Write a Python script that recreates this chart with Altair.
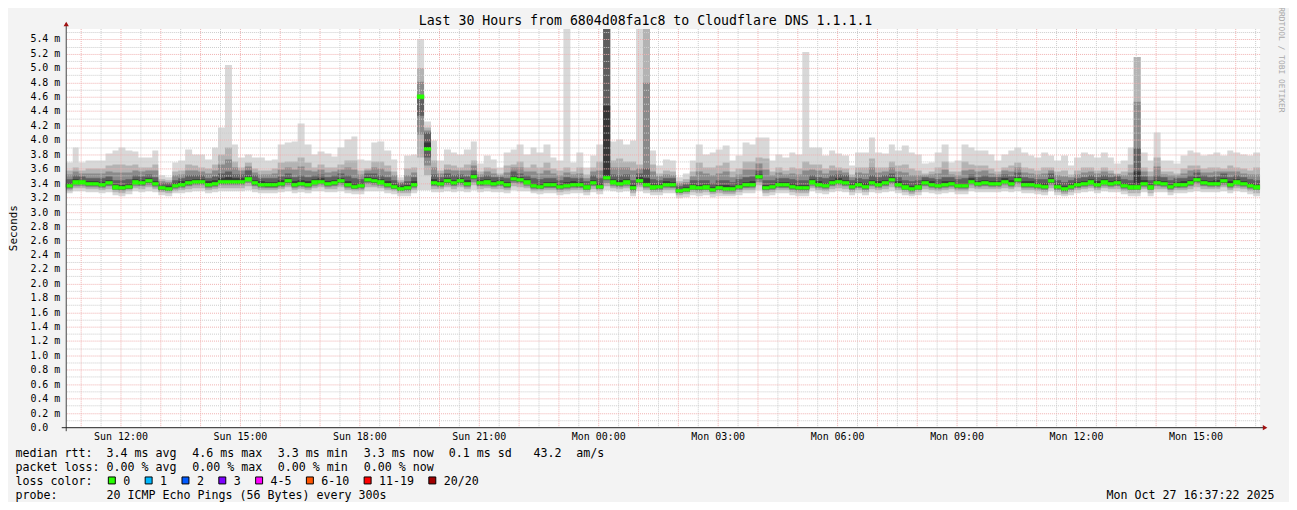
import altair as alt
import pandas as pd

# ---------------- data ----------------
START_H = 10 + 37 / 60 + 22 / 3600     # Sun 10:37:22, hours since Sun 00:00
STEP_H = 1 / 6                          # 10 minute columns
SPAN_H = 30

median = [
    3.36, 3.41, 3.41, 3.39, 3.39, 3.38, 3.40, 3.34, 3.33, 3.35,
    3.41, 3.40, 3.43, 3.39, 3.33, 3.32, 3.36, 3.38, 3.40, 3.42,
    3.42, 3.38, 3.39, 3.42, 3.42, 3.42, 3.42, 3.45, 3.40, 3.38,
    3.37, 3.37, 3.39, 3.43, 3.38, 3.39, 3.38, 3.41, 3.42, 3.39,
    3.40, 3.43, 3.38, 3.35, 3.36, 3.44, 3.43, 3.41, 3.38, 3.35,
    3.32, 3.33, 3.38, 4.60, 3.87, 3.40, 3.39, 3.43, 3.40, 3.43,
    3.39, 3.48, 3.40, 3.41, 3.39, 3.40, 3.37, 3.46, 3.44, 3.41,
    3.36, 3.35, 3.37, 3.37, 3.35, 3.36, 3.38, 3.37, 3.34, 3.40,
    3.35, 3.47, 3.41, 3.39, 3.41, 3.33, 3.43, 3.38, 3.34, 3.35,
    3.38, 3.37, 3.29, 3.31, 3.34, 3.33, 3.34, 3.31, 3.33, 3.32,
    3.32, 3.35, 3.37, 3.38, 3.48, 3.33, 3.35, 3.37, 3.37, 3.35,
    3.33, 3.33, 3.41, 3.38, 3.36, 3.40, 3.42, 3.40, 3.35, 3.37,
    3.35, 3.40, 3.38, 3.40, 3.44, 3.38, 3.34, 3.32, 3.34, 3.40,
    3.38, 3.36, 3.38, 3.39, 3.36, 3.36, 3.42, 3.39, 3.40, 3.39,
    3.39, 3.42, 3.39, 3.44, 3.38, 3.38, 3.36, 3.35, 3.43, 3.35,
    3.32, 3.35, 3.37, 3.39, 3.41, 3.38, 3.41, 3.39, 3.40, 3.36,
    3.34, 3.34, 3.39, 3.34, 3.40, 3.39, 3.35, 3.37, 3.38, 3.40,
    3.44, 3.40, 3.39, 3.39, 3.43, 3.38, 3.41, 3.39, 3.36, 3.34,
]
smoke_top = [
    3.69, 3.90, 3.69, 3.72, 3.71, 3.71, 3.81, 3.85, 3.90, 3.85,
    3.84, 3.76, 3.75, 3.85, 3.50, 3.48, 3.69, 3.71, 3.86, 3.80,
    3.80, 3.73, 3.89, 4.17, 5.05, 3.94, 3.76, 3.80, 3.76, 3.76,
    3.71, 3.73, 3.94, 3.97, 3.98, 4.22, 3.94, 3.80, 3.84, 3.81,
    3.77, 3.89, 4.01, 4.04, 3.73, 3.71, 3.97, 3.98, 3.85, 3.73,
    3.48, 3.78, 3.80, 5.40, 4.25, 3.99, 3.71, 3.87, 3.83, 3.80,
    3.86, 3.98, 3.67, 3.78, 3.73, 3.62, 3.83, 3.87, 3.94, 3.80,
    3.89, 3.83, 3.94, 3.76, 3.71, 6.00, 3.69, 3.83, 3.62, 3.78,
    3.94, 6.00, 3.98, 4.01, 3.94, 3.99, 6.00, 6.00, 3.85, 3.64,
    3.73, 3.71, 3.48, 3.53, 3.71, 3.94, 3.80, 3.83, 3.86, 3.92,
    3.71, 3.78, 3.97, 3.94, 4.03, 4.03, 3.71, 3.80, 3.76, 3.83,
    3.80, 5.22, 3.89, 3.89, 3.78, 3.85, 3.81, 3.78, 3.64, 3.83,
    3.83, 4.03, 3.83, 3.81, 3.94, 3.85, 3.92, 3.83, 3.80, 3.67,
    3.69, 3.83, 3.94, 3.69, 3.71, 3.94, 3.89, 3.85, 3.85, 3.80,
    3.71, 3.80, 3.85, 3.89, 3.83, 3.78, 3.76, 3.83, 3.78, 3.72,
    3.78, 3.64, 3.76, 3.83, 3.80, 3.76, 3.83, 3.76, 3.67, 3.71,
    3.89, 5.15, 3.83, 3.71, 4.10, 3.71, 3.71, 3.67, 3.78, 3.85,
    3.83, 3.78, 3.80, 3.83, 3.78, 3.85, 3.83, 3.80, 3.78, 3.83,
]
smoke_mid = [
    3.58, 3.62, 3.58, 3.60, 3.60, 3.60, 3.64, 3.66, 3.66, 3.64,
    3.66, 3.62, 3.62, 3.66, 3.45, 3.44, 3.56, 3.58, 3.66, 3.64,
    3.62, 3.60, 3.66, 3.80, 3.90, 3.70, 3.62, 3.68, 3.60, 3.58,
    3.58, 3.60, 3.68, 3.70, 3.70, 3.76, 3.68, 3.62, 3.66, 3.62,
    3.62, 3.66, 3.72, 3.72, 3.58, 3.60, 3.70, 3.70, 3.64, 3.56,
    3.44, 3.60, 3.62, 5.00, 4.17, 3.72, 3.58, 3.66, 3.64, 3.62,
    3.66, 3.72, 3.56, 3.62, 3.60, 3.54, 3.64, 3.66, 3.70, 3.62,
    3.66, 3.62, 3.68, 3.60, 3.58, 3.62, 3.56, 3.62, 3.52, 3.62,
    3.70, 6.00, 3.72, 3.74, 3.70, 3.70, 3.66, 6.00, 3.66, 3.54,
    3.58, 3.56, 3.42, 3.45, 3.56, 3.68, 3.62, 3.62, 3.64, 3.68,
    3.56, 3.60, 3.70, 3.70, 3.76, 3.74, 3.56, 3.62, 3.58, 3.62,
    3.60, 3.70, 3.66, 3.66, 3.60, 3.64, 3.62, 3.60, 3.52, 3.62,
    3.62, 3.74, 3.62, 3.62, 3.70, 3.64, 3.66, 3.60, 3.58, 3.54,
    3.56, 3.62, 3.70, 3.56, 3.56, 3.70, 3.66, 3.64, 3.64, 3.60,
    3.56, 3.62, 3.64, 3.68, 3.62, 3.60, 3.58, 3.62, 3.62, 3.56,
    3.58, 3.52, 3.58, 3.62, 3.62, 3.58, 3.62, 3.58, 3.54, 3.56,
    3.66, 5.15, 3.62, 3.56, 3.76, 3.56, 3.56, 3.54, 3.60, 3.64,
    3.64, 3.60, 3.62, 3.62, 3.60, 3.64, 3.62, 3.60, 3.58, 3.62,
]
smoke_dark = [
    3.45, 3.50, 3.49, 3.47, 3.47, 3.46, 3.49, 3.44, 3.43, 3.45,
    3.50, 3.49, 3.52, 3.48, 3.40, 3.39, 3.44, 3.47, 3.50, 3.51,
    3.51, 3.47, 3.49, 3.53, 3.56, 3.52, 3.52, 3.57, 3.50, 3.47,
    3.46, 3.46, 3.49, 3.53, 3.48, 3.50, 3.48, 3.50, 3.52, 3.48,
    3.50, 3.53, 3.50, 3.46, 3.45, 3.54, 3.53, 3.51, 3.48, 3.44,
    3.39, 3.42, 3.48, 4.62, 4.10, 3.52, 3.48, 3.53, 3.50, 3.52,
    3.49, 3.58, 3.48, 3.50, 3.48, 3.48, 3.46, 3.56, 3.54, 3.50,
    3.46, 3.45, 3.47, 3.46, 3.44, 3.48, 3.47, 3.46, 3.42, 3.50,
    3.46, 6.00, 3.52, 3.50, 3.52, 3.44, 3.54, 3.60, 3.45, 3.44,
    3.47, 3.46, 3.36, 3.38, 3.43, 3.44, 3.44, 3.40, 3.43, 3.43,
    3.41, 3.45, 3.48, 3.49, 3.58, 3.44, 3.44, 3.47, 3.46, 3.45,
    3.43, 3.44, 3.51, 3.48, 3.46, 3.50, 3.52, 3.50, 3.44, 3.47,
    3.45, 3.50, 3.48, 3.50, 3.54, 3.48, 3.44, 3.42, 3.43, 3.48,
    3.47, 3.45, 3.48, 3.48, 3.45, 3.46, 3.52, 3.48, 3.50, 3.48,
    3.48, 3.52, 3.49, 3.55, 3.48, 3.47, 3.45, 3.45, 3.53, 3.44,
    3.41, 3.44, 3.46, 3.48, 3.51, 3.48, 3.50, 3.48, 3.49, 3.45,
    3.44, 3.90, 3.49, 3.43, 3.50, 3.48, 3.44, 3.46, 3.47, 3.50,
    3.55, 3.50, 3.48, 3.49, 3.53, 3.48, 3.51, 3.48, 3.45, 3.43,
]
smoke_low = [
    3.25, 3.28, 3.28, 3.27, 3.27, 3.26, 3.27, 3.23, 3.22, 3.24,
    3.28, 3.27, 3.29, 3.27, 3.23, 3.22, 3.25, 3.26, 3.27, 3.28,
    3.28, 3.26, 3.27, 3.28, 3.28, 3.28, 3.28, 3.30, 3.27, 3.26,
    3.25, 3.25, 3.27, 3.29, 3.26, 3.27, 3.26, 3.28, 3.29, 3.27,
    3.27, 3.29, 3.26, 3.24, 3.24, 3.29, 3.29, 3.28, 3.26, 3.24,
    3.22, 3.22, 3.26, 3.30, 3.30, 3.27, 3.27, 3.29, 3.27, 3.29,
    3.27, 3.30, 3.27, 3.28, 3.27, 3.27, 3.25, 3.30, 3.29, 3.28,
    3.25, 3.24, 3.25, 3.25, 3.23, 3.24, 3.26, 3.25, 3.23, 3.27,
    3.24, 3.30, 3.28, 3.27, 3.28, 3.22, 3.29, 3.26, 3.23, 3.23,
    3.26, 3.25, 3.19, 3.20, 3.23, 3.22, 3.23, 3.20, 3.22, 3.21,
    3.21, 3.23, 3.25, 3.26, 3.30, 3.22, 3.23, 3.25, 3.25, 3.23,
    3.22, 3.22, 3.28, 3.26, 3.24, 3.27, 3.28, 3.27, 3.23, 3.25,
    3.23, 3.27, 3.26, 3.27, 3.29, 3.26, 3.23, 3.21, 3.23, 3.27,
    3.26, 3.24, 3.26, 3.27, 3.24, 3.24, 3.28, 3.27, 3.27, 3.27,
    3.27, 3.28, 3.27, 3.29, 3.26, 3.26, 3.24, 3.23, 3.28, 3.23,
    3.21, 3.23, 3.25, 3.27, 3.28, 3.26, 3.28, 3.27, 3.27, 3.24,
    3.22, 3.22, 3.27, 3.22, 3.27, 3.27, 3.23, 3.25, 3.26, 3.27,
    3.29, 3.27, 3.27, 3.27, 3.29, 3.26, 3.28, 3.27, 3.24, 3.22,
]

y_ticks = [round(i * 0.2, 1) for i in range(28)]          # 0.0 .. 5.4
x_label_hours = [12, 15, 18, 21, 24, 27, 30, 33, 36, 39]    # Sun 12:00 .. Mon 15:00

title_text = "Last 30 Hours from 6804d08fa1c8 to Cloudflare DNS 1.1.1.1"
rtt_stats = ["3.4 ms avg", "4.6 ms max", "3.3 ms min", "3.3 ms now", "0.1 ms sd", "43.2", "am/s"]
loss_stats = ["0.00 % avg", "0.00 % max", "0.00 % min", "0.00 % now"]
loss_labels = ["0", "1", "2", "3", "4-5", "6-10", "11-19", "20/20"]
loss_colors = ["#26ff00", "#00b8ff", "#0059ff", "#7e00ff", "#ff00ff", "#ff5500", "#ff0000", "#a10000"]
probe_text = "20 ICMP Echo Pings (56 Bytes) every 300s"
stamp_text = "Mon Oct 27 16:37:22 2025"
watermark = "RRDTOOL / TOBI OETIKER"

# ---------------- tables ----------------
n = len(median)
t_start = [START_H + i * STEP_H for i in range(n)]
cols = pd.DataFrame({
    "t": t_start,
    "t1": [v + STEP_H for v in t_start],
    "lo": smoke_low, "med": median, "dk": smoke_dark, "hi": smoke_mid, "top": smoke_top,
})
# step-after areas need a closing row at the right edge
area_df = pd.concat([cols, cols.iloc[[-1]].assign(t=START_H + SPAN_H)], ignore_index=True)

FONT = "DejaVu Sans Mono"
W, H = 1200, 400
Y_MAX = 5.543
OX, OY = 66, 28   # page position of the plot origin (page has an 8px margin)

xs = alt.Scale(domain=[START_H, START_H + SPAN_H], nice=False, zero=False, round=True)
ys = alt.Scale(domain=[0, Y_MAX], nice=False, zero=False, clamp=True, round=True)

x_axis = alt.Axis(values=x_label_hours, grid=False, domain=False, ticks=False,
                  labelExpr="(datum.value < 24 ? 'Sun ' : 'Mon ') + (datum.value % 24 < 10 ? '0' : '') + (datum.value % 24) + ':00'",
                  labelFont=FONT, labelFontSize=10, labelColor="#000000", labelPadding=4,
                  labelFlush=False, labelOverlap=False, title=None)
y_axis = alt.Axis(values=y_ticks, grid=False, domain=False, ticks=False,
                  labelExpr="datum.value == 0 ? '0.0' : format(datum.value, '.1f') + ' m'",
                  labelFont=FONT, labelFontSize=10, labelColor="#000000", labelAlign="left",
                  labelBaseline="middle", labelPadding=36, labelOverlap=False, title=None)


def X(field):
    return alt.X(field, scale=xs, axis=x_axis)


def Y(field):
    return alt.Y(field, scale=ys, axis=y_axis)


def band(lo_expr, hi_expr, color):
    return alt.Chart(area_df).transform_calculate(a=lo_expr, b=hi_expr).mark_area(
        interpolate="step-after", color=color, opacity=1, clip=True
    ).encode(x=X("t:Q"), y=Y("a:Q"), y2="b:Q")


layers = [
    band("datum.lo", "datum.top", "#d8d8d8"),
    band("datum.lo + 0.35*(datum.med - datum.lo)", "datum.hi", "#b3b3b3"),
    band("datum.lo + 0.6*(datum.med - datum.lo)", "datum.dk + 0.5*(datum.hi - datum.dk)", "#8a8a8a"),
    band("datum.lo + 0.8*(datum.med - datum.lo)", "datum.dk", "#5e5e5e"),
    band("datum.med - 0.02", "datum.med + 0.4*(datum.dk - datum.med)", "#363636"),
]

# grid (drawn over the smoke, like rrdtool)
minor_y = pd.DataFrame({"v": [round(0.1 + 0.2 * i, 1) for i in range(28)]})
major_y = pd.DataFrame({"v": [v for v in y_ticks if v > 0]})
minor_x = pd.DataFrame({"v": [11.5 + i for i in range(30)]})
major_x = pd.DataFrame({"v": [11 + i for i in range(30)]})

g_minor = dict(color="#cccccc", strokeDash=[1, 1], strokeWidth=1)
g_major = dict(color="#f0b0b0", strokeDash=[1, 1], strokeWidth=1)
layers += [
    alt.Chart(minor_y).mark_rule(yOffset=0.5, **g_minor).encode(y=Y("v:Q")),
    alt.Chart(minor_x).mark_rule(xOffset=0.5, **g_minor).encode(x=X("v:Q")),
    alt.Chart(major_y).mark_rule(yOffset=0.5, **g_major).encode(y=Y("v:Q")),
    alt.Chart(major_x).mark_rule(xOffset=0.5, **g_major).encode(x=X("v:Q")),
]

# median line (loss 0 -> green)
layers.append(
    alt.Chart(cols).transform_calculate(a="datum.med - 0.022", b="datum.med + 0.022").mark_rect(
        color="#26ff00", stroke="#26ff00", strokeWidth=0.4, clip=True
    ).encode(x=X("t:Q"), x2="t1:Q", y=Y("a:Q"), y2="b:Q")
)

one = pd.DataFrame({"k": [0]})

# axis lines and arrows
layers += [
    alt.Chart(one).mark_rule(color="#404040", strokeWidth=1).encode(
        x=alt.value(0.5), y=alt.value(404), y2=alt.value(-6)),
    alt.Chart(one).mark_rule(color="#202020", strokeWidth=1).encode(
        y=alt.value(400.5), x=alt.value(-4), x2=alt.value(1205)),
    alt.Chart(one).mark_point(shape="triangle-up", filled=True, size=28, color="#a01010", opacity=1).encode(
        x=alt.value(0.5), y=alt.value(-5)),
    alt.Chart(one).mark_point(shape="triangle-right", filled=True, size=28, color="#a01010", opacity=1).encode(
        x=alt.value(1205), y=alt.value(400.5)),
]


def txt(s, x, y, size=11.7, align="left", color="#000000", angle=0, baseline="alphabetic"):
    return alt.Chart(one).mark_text(
        text=s, font=FONT, fontSize=size, align=align, baseline=baseline, color=color, angle=angle
    ).encode(x=alt.value(x), y=alt.value(y))


layers.append(txt(title_text, 648.5 - OX, 24 - OY, size=13.3, align="center"))
layers.append(txt("Seconds", 14.5 - OX, 228 - OY, size=11, align="center", angle=270, baseline="middle"))
layers.append(txt(watermark, 1287 - OX, 59 - OY, size=8, align="center", angle=90, baseline="middle", color="#a8a8a8"))

# legend rows
row_base = [458, 472, 486, 500]
item_x = [107, 193, 279, 365.4, 450.7, 536, 579]
layers.append(txt("median rtt:", 15.5 - OX, row_base[0] - OY))
for s, xx in zip(rtt_stats, item_x):
    layers.append(txt(s, xx - OX, row_base[0] - OY))
layers.append(txt("packet loss:", 15.5 - OX, row_base[1] - OY))
for s, xx in zip(loss_stats, item_x):
    layers.append(txt(s, xx - OX, row_base[1] - OY))
layers.append(txt("loss color:", 15.5 - OX, row_base[2] - OY))
bx = 108.3
for lab, colr in zip(loss_labels, loss_colors):
    layers.append(alt.Chart(one).mark_rect(fill=colr, stroke="#000000", strokeWidth=1).encode(
        x=alt.value(bx + 0.5 - OX), x2=alt.value(bx + 7.5 - OX),
        y=alt.value(478 - OY), y2=alt.value(485 - OY)))
    layers.append(txt(lab, bx + 15.5 - OX, row_base[2] - OY))
    bx += 30 + 7 * len(lab)
layers.append(txt("probe:", 15.5 - OX, row_base[3] - OY))
layers.append(txt(probe_text, 107 - OX, row_base[3] - OY))
layers.append(txt(stamp_text, 1280.5 - OX, row_base[3] - OY, align="right"))

chart = alt.layer(*layers).properties(
    width=W, height=H,
    padding={"left": OX - 8, "top": OY - 8, "right": 1287 - (OX - 8) - W, "bottom": 74},
    autosize=alt.AutoSizeParams(type="none"),
    background="#f3f3f3",
).configure_view(fill="#ffffff", stroke=None)

chart.save("out.html", embed_options={"renderer": "svg", "actions": False})
